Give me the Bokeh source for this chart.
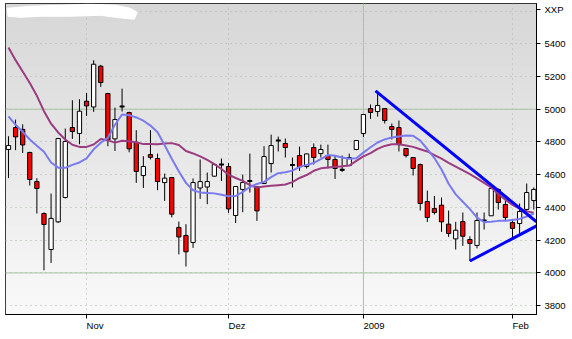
import numpy as np
from bokeh.plotting import figure
from bokeh.models import Range1d, FixedTicker, Span, ColumnDataSource
from bokeh.embed import file_html
from bokeh.resources import INLINE

# ---------------- data ----------------
x_tick_idx = [11, 31, 50, 71]
x_tick_labels = ["Nov", "Dez", "2009", "Feb"]
y_ticks = [3800, 4000, 4200, 4400, 4600, 4800, 5000, 5200, 5400]
y_tick_labels = ["3800", "4000", "4200", "4400", "4600", "4800", "5000", "5200", "5400"]
grid_y = [3800, 4000, 4200, 4400, 4600, 4800, 5000, 5200, 5400, 5600]
solid_y = [4000, 5000]
solid_x = [50]
unit_label = "XXP"
unit_label_y = 5611

open_ = [4754, 4888, 4877, 4736, 4558, 4363, 4143, 4312, 4461, 4888,
         4852, 5049, 5014, 5263, 5096, 4819, 5017, 4980, 4798, 4595,
         4723, 4699, 4552, 4583, 4278, 4229, 4186, 4519, 4525, 4591,
         4662, 4650, 4351, 4510, 4562, 4526, 4546, 4668, 4809, 4791,
         4660, 4717, 4650, 4766, 4729, 4717, 4693, 4630, 4656, 4754,
         4852, 5004, 4986, 5004, 4894, 4888, 4760, 4705, 4662, 4436,
         4393, 4414, 4298, 4208, 4314, 4204, 4168, 4320, 4349, 4510,
         4418, 4308, 4302, 4388, 4442]
high = [4835, 4937, 4908, 4740, 4579, 4370, 4485, 4825, 4882, 5055,
        5061, 5100, 5299, 5271, 5100, 5010, 5126, 4985, 4872, 4713,
        4872, 4729, 4607, 4585, 4314, 4298, 4577, 4693, 4613, 4665,
        4699, 4672, 4530, 4601, 4729, 4528, 4774, 4845, 4833, 4821,
        4705, 4772, 4729, 4791, 4784, 4784, 4717, 4717, 4729, 4812,
        4968, 5029, 5110, 5006, 4913, 4931, 4762, 4707, 4668, 4503,
        4470, 4461, 4381, 4312, 4369, 4224, 4369, 4369, 4516, 4516,
        4442, 4320, 4424, 4546, 4522]
low = [4579, 4750, 4733, 4534, 4363, 4016, 4061, 4305, 4455, 4819,
       4786, 4959, 4984, 5136, 4774, 4745, 4986, 4737, 4550, 4519,
       4693, 4505, 4440, 4339, 4113, 4039, 4153, 4452, 4420, 4587,
       4562, 4367, 4305, 4371, 4491, 4318, 4544, 4613, 4742, 4705,
       4522, 4623, 4638, 4662, 4705, 4638, 4574, 4617, 4654, 4750,
       4831, 4941, 4955, 4913, 4815, 4742, 4705, 4595, 4381, 4311,
       4357, 4251, 4220, 4143, 4165, 4073, 4150, 4265, 4349, 4387,
       4320, 4208, 4235, 4375, 4387]
close = [4778, 4831, 4782, 4571, 4516, 4296, 4333, 4821, 4803, 4864,
         4988, 5020, 5275, 5163, 4811, 4937, 5017, 4758, 4620, 4650,
         4706, 4558, 4579, 4359, 4220, 4129, 4552, 4558, 4558, 4662,
         4662, 4391, 4528, 4552, 4562, 4379, 4711, 4778, 4809, 4766,
         4660, 4648, 4727, 4705, 4754, 4693, 4638, 4630, 4705, 4809,
         4968, 4980, 5023, 4931, 4876, 4784, 4717, 4638, 4424, 4339,
         4369, 4312, 4241, 4261, 4224, 4180, 4320, 4320, 4516, 4430,
         4339, 4272, 4375, 4491, 4510]
ma_slow = [5377, 5300, 5230, 5160, 5082, 4988, 4912, 4858, 4815, 4783,
           4770, 4770, 4785, 4818, 4810, 4796, 4808, 4805, 4798, 4787,
           4787, 4786, 4790, 4793, 4782, 4745, 4730, 4712, 4690, 4665,
           4635, 4600, 4580, 4562, 4536, 4522, 4528, 4532, 4536, 4540,
           4555, 4580, 4598, 4624, 4639, 4644, 4647, 4651, 4656, 4685,
           4712, 4732, 4758, 4776, 4786, 4786, 4778, 4770, 4756, 4742,
           4720, 4698, 4672, 4650, 4627, 4603, 4578, 4550, 4522, 4482,
           4448, 4416, 4393, 4376, 4367]
ma_fast = [4957, 4905, 4862, 4815, 4777, 4740, 4675, 4643, 4642, 4660,
           4675, 4700, 4755, 4795, 4825, 4905, 4968, 4964, 4950, 4930,
           4900, 4860, 4780, 4698, 4620, 4550, 4505, 4492, 4489, 4486,
           4477, 4468, 4470, 4495, 4525, 4543, 4556, 4585, 4609, 4615,
           4625, 4648, 4660, 4672, 4695, 4720, 4716, 4705, 4698, 4700,
           4735, 4768, 4797, 4816, 4827, 4834, 4840, 4838, 4808, 4757,
           4702, 4632, 4545, 4480, 4435, 4390, 4338, 4310, 4312, 4318,
           4318, 4324, 4330, 4345, 4363]
trend_upper_x = [51.7, 74.38]
trend_upper_y = [5112, 4312]
trend_lower_x = [65.0, 74.38]
trend_lower_y = [4073, 4287]

# ---------------- figure ----------------
X0, X1 = -0.42, 74.38
Y0, Y1 = 3746, 5646
FONT = "Liberation Sans"

p = figure(frame_width=531, frame_height=311,
           min_border_left=5, min_border_right=36, min_border_top=3, min_border_bottom=25,
           x_range=Range1d(X0, X1), y_range=Range1d(Y0, Y1),
           y_axis_location="right", output_backend="svg", toolbar_location=None,
           border_fill_color="white", background_fill_color="#ececec",
           outline_line_color="black", outline_line_width=1)

# background gradient
n = 256
shade = np.linspace(250, 215, n).astype(np.uint8)  # bottom -> top
img = np.zeros((n, 1), dtype=np.uint32)
v = img.view(dtype=np.uint8).reshape((n, 1, 4))
v[:, 0, 0] = shade
v[:, 0, 1] = shade
v[:, 0, 2] = shade
v[:, 0, 3] = 255
p.image_rgba(image=[img], x=X0, y=Y0, dw=X1 - X0, dh=Y1 - Y0, level="image")

# grids
GRID = "#a6b9a3"
for g in p.xgrid:
    g.ticker = FixedTicker(ticks=x_tick_idx)
    g.grid_line_color = GRID
    g.grid_line_dash = "1 4"
for g in p.ygrid:
    g.ticker = FixedTicker(ticks=grid_y)
    g.grid_line_color = GRID
    g.grid_line_dash = "1 4"
for yv in solid_y:
    p.add_layout(Span(location=yv, dimension="width", line_color="#a9c3a4", line_width=1, level="underlay"))
for xv in solid_x:
    p.add_layout(Span(location=xv, dimension="height", line_color="#a9c3a4", line_width=1, level="underlay"))

# white redaction blob (top left)
def px_x(px):
    return (px - 8.3) / 7.095

def px_y(py):
    return 5000 - (py - 109) * 6.107

blob = [(7, 8), (30, 6), (60, 5), (90, 4), (115, 5), (130, 8), (137, 12), (134, 19),
        (115, 17), (100, 15), (70, 16), (40, 16), (20, 17), (8, 16)]
p.patch([px_x(a) for a, b in blob], [px_y(b) for a, b in blob], color="white", line_color="white")

# candles
idx = list(range(len(open_)))
src = ColumnDataSource(dict(
    x=idx, o=open_, h=high, l=low, c=close,
    top=[max(a, b) for a, b in zip(open_, close)],
    bottom=[min(a, b) for a, b in zip(open_, close)],
    fill=["#ff0000" if c < o else "#ffffff" for o, c in zip(open_, close)],
))
p.segment(x0="x", y0="l", x1="x", y1="h", source=src, line_color="black", line_width=1)
p.vbar(x="x", width=0.6, top="top", bottom="bottom", source=src,
       fill_color="fill", line_color="black", line_width=1)
doji = [i for i in idx if open_[i] == close[i]]
p.segment(x0=[i - 0.33 for i in doji], x1=[i + 0.33 for i in doji],
          y0=[open_[i] for i in doji], y1=[close[i] for i in doji],
          line_color="black", line_width=2)

# moving averages
p.line(idx, ma_slow, line_color="#9b3c80", line_width=2)
p.line(idx, ma_fast, line_color="#7a7af0", line_width=2)

# trend lines
p.line(trend_upper_x, trend_upper_y, line_color="#0000ff", line_width=3)
p.line(trend_lower_x, trend_lower_y, line_color="#0000ff", line_width=3)

# axes
xa = p.xaxis[0]
xa.ticker = FixedTicker(ticks=x_tick_idx)
xa.major_label_overrides = dict(zip(x_tick_idx, x_tick_labels))
xa.major_label_orientation = -1e-7   # makes labels left-aligned at the tick
xa.major_label_standoff = 4
xa.major_label_text_font = FONT
xa.major_label_text_font_size = "9.5px"
xa.major_label_text_color = "black"
xa.major_tick_in = 0
xa.major_tick_out = 7
xa.major_tick_line_dash = "0 3 4 100"
xa.minor_tick_out = 0
xa.minor_tick_in = 0
xa.axis_line_color = "black"

ya = p.yaxis[0]
ya.ticker = FixedTicker(ticks=y_ticks + [unit_label_y])
ya.major_label_overrides = dict(zip(y_ticks + [unit_label_y], y_tick_labels + [unit_label]))
ya.major_tick_in = 0
ya.major_tick_out = 7
ya.major_tick_line_dash = "0 3 4 100"
ya.minor_tick_out = 0
ya.minor_tick_in = 0
ya.major_label_standoff = 1
ya.major_label_text_font = FONT
ya.major_label_text_font_size = "9.5px"
ya.major_label_text_color = "black"

open("out.html", "w").write(file_html(p, INLINE))
